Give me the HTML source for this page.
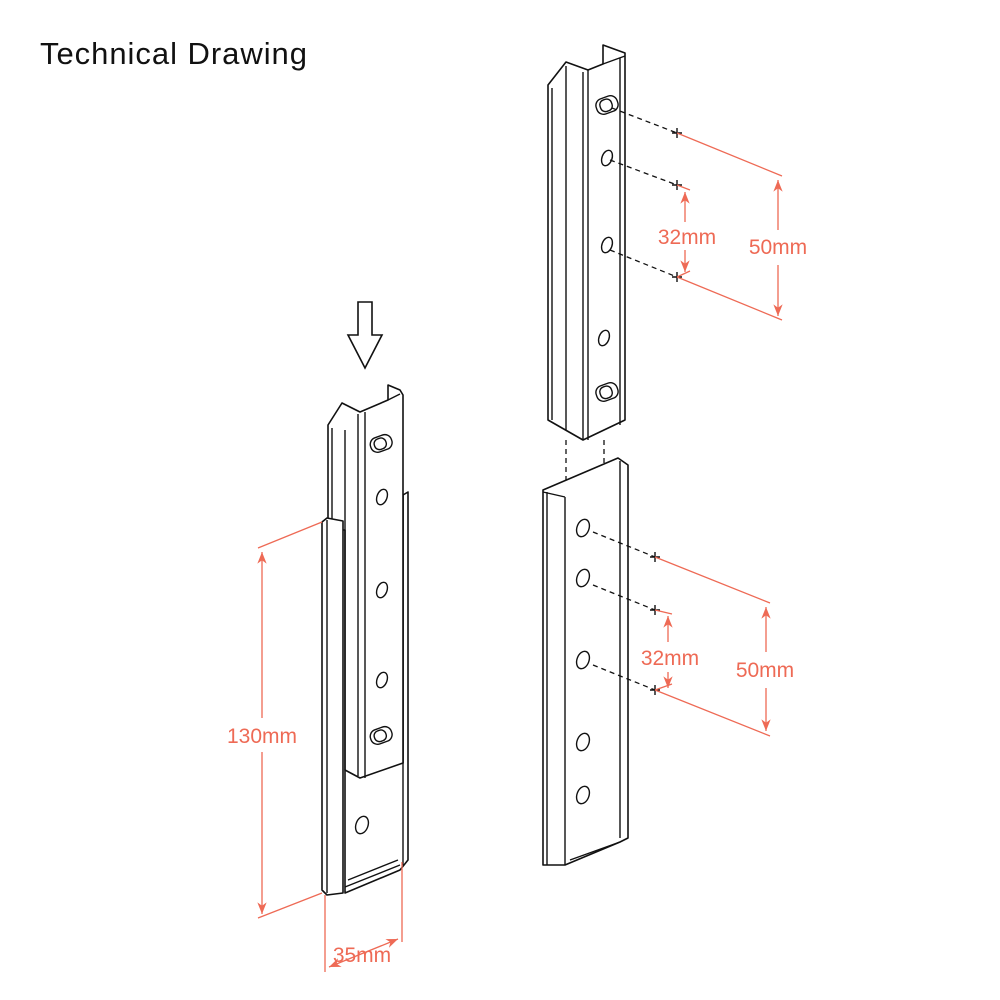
<!DOCTYPE html>
<html><head><meta charset="utf-8"><style>
body{margin:0;background:#fff}
svg{display:block}
.k{fill:#fff;stroke:#111;stroke-width:1.6;stroke-linejoin:round}
.l{fill:none;stroke:#111;stroke-width:1.4}
.d{fill:none;stroke:#111;stroke-width:1.3;stroke-dasharray:5 4}
.r{fill:none;stroke:#ee6a55;stroke-width:1.3}
.t{font-family:"Liberation Sans",sans-serif;font-size:21px;fill:#ee6a55;text-anchor:middle}
</style></head><body>
<svg width="1000" height="1000" viewBox="0 0 1000 1000">
<defs>
<marker id="a" viewBox="0 0 10 10" refX="10" refY="5" markerWidth="9" markerHeight="9" orient="auto-start-reverse"><path d="M0,1 L10,5 L0,9 L3,5 Z" fill="#ee6a55"/></marker>
</defs>
<text x="40" y="64" font-family="Liberation Sans, sans-serif" font-size="31" fill="#111" textLength="267">Technical Drawing</text>

<!-- upper right piece -->
<path class="k" d="M548,85 L566,62 L588,70 L603,64 L603,45 L625,53 L625,420 L583,440 L548,420 Z"/>
<path class="l" d="M552,88 L552,420 M566,66 L566,430 M583,72 L583,440 M588,70 L588,440 M603,64 L625,56 M620,58 L620,425"/>
<g class="l">
<rect x="596" y="97" width="22" height="16" rx="7" transform="rotate(-20 607 105)"/>
<rect x="600" y="99" width="12" height="12" rx="5" transform="rotate(-20 607 105)"/>
<ellipse cx="607" cy="158" rx="5" ry="8" transform="rotate(20 607 158)"/>
<ellipse cx="607" cy="245" rx="5" ry="8" transform="rotate(20 607 245)"/>
<ellipse cx="604" cy="338" rx="5" ry="8" transform="rotate(20 604 338)"/>
<rect x="596" y="384" width="22" height="16" rx="7" transform="rotate(-20 607 392)"/>
<rect x="600" y="386" width="12" height="12" rx="5" transform="rotate(-20 607 392)"/>
</g>
<path class="d" d="M612,108 L677,133 M610,160 L677,185 M610,250 L677,277 M566,440 L566,492 M604,440 L604,742"/>
<path class="l" d="M672,133h10M677,128v10M672,185h10M677,180v10M672,277h10M677,272v10M600,742h10M605,737v10"/>
<path class="r" d="M677,133 L782,176 M677,277 L782,320 M677,185 L690,190 M677,277 L690,271"/>
<path class="r" d="M778,180 L778,230 M778,265 L778,316" marker-start="url(#a)" marker-end="url(#a)"/>
<path class="r" d="M685,192 L685,222 M685,250 L685,272" marker-start="url(#a)" marker-end="url(#a)"/>
<text class="t" x="687" y="244">32mm</text>
<text class="t" x="778" y="254">50mm</text>

<!-- lower right piece -->
<path class="k" d="M543,490 L618,458 L628,465 L628,838 L620,842 L565,865 L543,865 Z"/>
<path class="l" d="M547,492 L547,865 M565,497 L565,865 M543,492 L565,497 M620,461 L620,838 M570,860 L620,842"/>
<g class="l">
<ellipse cx="583" cy="528" rx="6" ry="9" transform="rotate(20 583 528)"/>
<ellipse cx="583" cy="578" rx="6" ry="9" transform="rotate(20 583 578)"/>
<ellipse cx="583" cy="660" rx="6" ry="9" transform="rotate(20 583 660)"/>
<ellipse cx="583" cy="742" rx="6" ry="9" transform="rotate(20 583 742)"/>
<ellipse cx="583" cy="795" rx="6" ry="9" transform="rotate(20 583 795)"/>
</g>
<path class="d" d="M593,532 L655,557 M593,585 L655,610 M593,665 L655,690"/>
<path class="l" d="M650,557h10M655,552v10M650,610h10M655,605v10M650,690h10M655,685v10"/>
<path class="r" d="M655,557 L770,603 M655,690 L770,736 M655,610 L672,614 M655,690 L672,684"/>
<path class="r" d="M766,607 L766,652 M766,688 L766,731" marker-start="url(#a)" marker-end="url(#a)"/>
<path class="r" d="M668,616 L668,642 M668,672 L668,688" marker-start="url(#a)" marker-end="url(#a)"/>
<text class="t" x="670" y="665">32mm</text>
<text class="t" x="765" y="677">50mm</text>

<!-- down arrow -->
<path d="M358,302 L372,302 L372,335 L382,335 L365,368 L348,335 L358,335 Z" fill="#fff" stroke="#111" stroke-width="1.6"/>

<!-- left assembly: outer rail back part -->
<path class="k" d="M403,495 L408,492 L408,860 L400,870 L345,893 L345,770 L403,763 Z"/>
<path class="l" d="M403,495 L403,865"/>
<!-- inner rail -->
<path class="k" d="M328,425 L342,403 L360,412 L388,400 L388,385 L400,390 L403,395 L403,763 L360,778 L345,770 L345,530 L328,530 Z"/>
<path class="l" d="M332,428 L332,530 M345,430 L345,770 M358,414 L358,776 M365,412 L365,778 M388,400 L400,394"/>
<g class="l">
<rect x="370" y="436" width="22" height="15" rx="7" transform="rotate(-20 381 443)"/>
<rect x="374" y="438" width="12" height="11" rx="5" transform="rotate(-20 381 443)"/>
<ellipse cx="382" cy="497" rx="5" ry="8" transform="rotate(20 382 497)"/>
<ellipse cx="382" cy="590" rx="5" ry="8" transform="rotate(20 382 590)"/>
<ellipse cx="382" cy="680" rx="5" ry="8" transform="rotate(20 382 680)"/>
<rect x="370" y="728" width="22" height="15" rx="7" transform="rotate(-20 381 735)"/>
<rect x="374" y="730" width="12" height="11" rx="5" transform="rotate(-20 381 735)"/>
<ellipse cx="362" cy="825" rx="6" ry="9" transform="rotate(20 362 825)"/>
</g>
<!-- outer rail front flange -->
<path class="k" d="M322,522 L327,518 L343,521 L343,893 L327,895 L322,890 Z"/>
<path class="l" d="M327,520 L327,893 M345,887 L400,865 M348,880 L398,860"/>

<!-- 130mm -->
<path class="r" d="M322,522 L258,548 M322,893 L258,918"/>
<path class="r" d="M262,552 L262,718 M262,752 L262,914" marker-start="url(#a)" marker-end="url(#a)"/>
<text class="t" x="262" y="743">130mm</text>
<!-- 35mm -->
<path class="r" d="M325,895 L325,972 M402,862 L402,942"/>
<path class="r" d="M329,967 L398,939" marker-start="url(#a)" marker-end="url(#a)"/>
<text class="t" x="362" y="962">35mm</text>
</svg>
</body></html>
